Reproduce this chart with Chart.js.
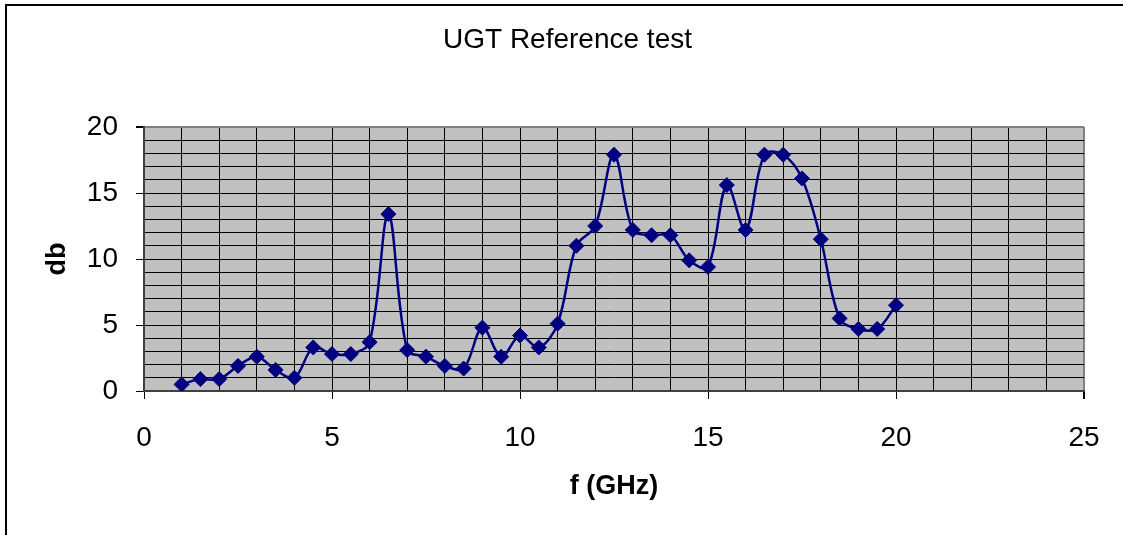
<!DOCTYPE html>
<html>
<head>
<meta charset="utf-8">
<script src="https://cdn.jsdelivr.net/npm/chart.js@4.4.1/dist/chart.umd.min.js"></script>
<style>
    body { margin: 0; background: #fff; }
    #wrap { position: relative; width: 1123px; height: 535px; overflow: hidden; }
    /* marco del área del gráfico (solo se ven borde izquierdo y superior) */
    #frame { position: absolute; left: 5px; top: 4px; width: 1130px; height: 540px;
             border-left: 2px solid #000; border-top: 2px solid #000; }
    #ugtChart { position: absolute; left: 0; top: 0; }
</style>
</head>
<body>
<div id="wrap">
    <div id="frame"></div>
    <canvas id="ugtChart" width="1123" height="535"></canvas>
</div>
<script>
// Datos
const freqGHz = [1, 1.5, 2, 2.5, 3, 3.5, 4, 4.5, 5, 5.5, 6, 6.5, 7, 7.5, 8, 8.5, 9, 9.5, 10, 10.5,
                 11, 11.5, 12, 12.5, 13, 13.5, 14, 14.5, 15, 15.5, 16, 16.5, 17, 17.5, 18, 18.5, 19, 19.5, 20];
const gainDb = [0.5, 0.9, 0.9, 1.9, 2.6, 1.6, 1.0, 3.3, 2.8, 2.8, 3.7, 13.4, 3.1, 2.6, 1.9, 1.7, 4.8, 2.6, 4.2, 3.3,
                5.1, 11.0, 12.5, 17.9, 12.2, 11.8, 11.8, 9.9, 9.4, 15.6, 12.2, 17.9, 17.9, 16.1, 11.5, 5.5, 4.7, 4.7, 6.5];
const xTicks = [0, 5, 10, 15, 20, 25];
const yTicks = [0, 5, 10, 15, 20];

const chartTitle = 'UGT Reference test';
const xTitle = 'f (GHz)';
const yTitle = 'db';

const FONT = "'Liberation Sans', Arial, sans-serif";
const NAVY = '#000080';

// Fondo gris del área de trazado
const plotBackground = {
    id: 'plotBackground',
    beforeDraw(chart) {
        const { ctx, chartArea: a } = chart;
        ctx.save();
        ctx.fillStyle = '#C0C0C0';
        ctx.fillRect(a.left, a.top, a.right - a.left, a.bottom - a.top);
        ctx.restore();
    }
};

const points = freqGHz.map((f, i) => ({ x: f, y: gainDb[i] }));

new Chart(document.getElementById('ugtChart'), {
    type: 'line',
    data: {
        datasets: [{
            data: points,
            borderColor: NAVY,
            borderWidth: 2.5,
            tension: 0.35,
            pointStyle: 'rectRot',
            pointRadius: 7.5,
            pointBackgroundColor: NAVY,
            pointBorderColor: NAVY,
            pointBorderWidth: 1,
            fill: false
        }]
    },
    options: {
        responsive: false,
        animation: false,
        layout: { padding: { left: 51, right: 39, top: 5, bottom: 0 } },
        plugins: {
            legend: { display: false },
            tooltip: { enabled: false },
            title: {
                display: true,
                text: chartTitle,
                color: '#000',
                font: { family: FONT, size: 28, weight: 'normal', lineHeight: 1.2 },
                padding: { top: 18.2, bottom: 70.2 }
            }
        },
        scales: {
            x: {
                type: 'linear',
                min: 0,
                max: 25,
                afterFit(scale) { scale.height = 144; },
                ticks: {
                    stepSize: 1,
                    autoSkip: false,
                    maxRotation: 0,
                    padding: 22,
                    color: '#000',
                    font: { family: FONT, size: 28, lineHeight: 1.2 },
                    callback: v => xTicks.includes(v) ? String(v) : ''
                },
                grid: {
                    color: c => c.tick && c.tick.value === 25 ? '#808080' : '#000',
                    lineWidth: c => c.tick && c.tick.value === 25 ? 2 : 1,
                    tickLength: 8,
                    tickColor: c => c.tick && xTicks.includes(c.tick.value) ? '#000' : 'rgba(0,0,0,0)'
                },
                border: { color: '#404040', width: 2 },
                title: {
                    display: true,
                    text: xTitle,
                    color: '#000',
                    font: { family: FONT, size: 27, weight: 'bold', lineHeight: 1.2 },
                    padding: { top: 0, bottom: 31.8 }
                }
            },
            y: {
                type: 'linear',
                min: 0,
                max: 20,
                afterFit(scale) { scale.width = 93; },
                ticks: {
                    stepSize: 1,
                    autoSkip: false,
                    padding: 18,
                    color: '#000',
                    font: { family: FONT, size: 28, lineHeight: 1.2 },
                    callback: v => yTicks.includes(v) ? String(v) : ''
                },
                grid: {
                    color: c => c.tick && c.tick.value === 20 ? '#808080' : '#000',
                    lineWidth: c => c.tick && c.tick.value === 20 ? 2 : 1,
                    tickLength: 8,
                    tickColor: c => c.tick && yTicks.includes(c.tick.value) ? '#000' : 'rgba(0,0,0,0)'
                },
                border: { color: '#404040', width: 2 },
                title: {
                    display: true,
                    text: yTitle,
                    color: '#000',
                    font: { family: FONT, size: 27, weight: 'bold', lineHeight: 1.2 },
                    padding: { top: -9.2, bottom: 0 }
                }
            }
        }
    },
    plugins: [plotBackground]
});
</script>
</body>
</html>
